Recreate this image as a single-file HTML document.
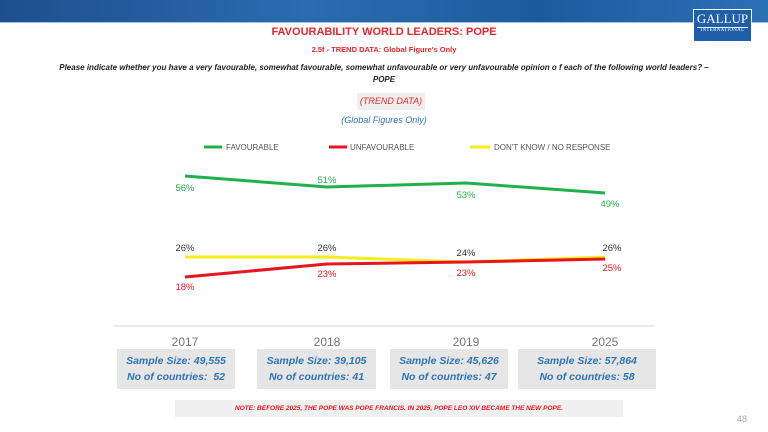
<!DOCTYPE html>
<html><head><style>
body{margin:0;width:768px;height:432px;background:#fff;font-family:"Liberation Sans",sans-serif;position:relative;overflow:hidden}
.a{position:absolute;white-space:nowrap}
.c{transform:translateX(-50%);text-align:center}
.box{position:absolute;background:#e6e6e6;top:349px;height:40px;color:#2e75b6;font-weight:bold;font-style:italic;font-size:10.5px;text-align:center;line-height:16px;padding-top:4px;box-sizing:border-box}
</style></head><body>
<div class="a" style="left:0;top:0;width:768px;height:22px;background:linear-gradient(90deg,#1d4f8f,#2a6cb0 40%,#1e5a9e 70%,#2b70b5)"></div>
<div class="a" style="left:0;top:22px;width:768px;height:1px;background:#9cc3e6"></div>
<div class="a" style="left:693px;top:9px;width:57px;height:31px;background:#1f5ea8;border:1px solid #fff;color:#fff;font-family:'Liberation Serif',serif;text-align:center;overflow:hidden">
<div style="font-size:13px;line-height:16px;margin-top:1px">GALLUP</div>
<div style="font-size:5px;border-top:1px solid #fff;margin:0 3px;letter-spacing:.3px">INTERNATIONAL</div></div>
<div class="a c" style="left:384px;top:26px;color:#e8262a;font-weight:bold;font-size:11px">FAVOURABILITY WORLD LEADERS: POPE</div>
<div class="a c" style="left:384px;top:45px;color:#e8262a;font-weight:bold;font-size:7.5px">2.5f - TREND DATA: Global Figure's Only</div>
<div class="a c" style="left:384px;top:62px;color:#222;font-weight:bold;font-style:italic;font-size:8px;line-height:12px">Please indicate whether you have a very favourable, somewhat favourable, somewhat unfavourable or very unfavourable opinion o f each of the following world leaders? –<br>POPE</div>
<div class="a c" style="left:391px;top:93px;width:68px;height:17px;background:#efefef;color:#e8262a;font-style:italic;font-size:9px;line-height:17px">(TREND DATA)</div>
<div class="a c" style="left:384px;top:115px;color:#2e75b6;font-style:italic;font-size:9px">(Global Figures Only)</div>
<svg class="a" style="left:0;top:0" width="768" height="432">
<g stroke-width="3">
<line x1="204" y1="147" x2="222" y2="147" stroke="#22b04b"/>
<line x1="329" y1="147" x2="347" y2="147" stroke="#e8161c"/>
<line x1="470" y1="147" x2="490" y2="147" stroke="#f5ee1c"/>
<polyline fill="none" stroke="#22b04b" points="185,176 327,187 466,183 605,193"/>
<polyline fill="none" stroke="#f5ee1c" points="185,257 327,257 466,262 605,257"/>
<polyline fill="none" stroke="#e8161c" points="185,277 327,264 466,262 605,259"/>
</g>
<line x1="113" y1="326" x2="655" y2="326" stroke="#e4e4e4" stroke-width="1.5"/>
<g font-family="Liberation Sans" font-size="8" fill="#555">
<text x="226" y="150">FAVOURABLE</text><text x="350" y="150">UNFAVOURABLE</text><text x="494" y="150">DON'T KNOW / NO RESPONSE</text></g>
<g font-family="Liberation Sans" font-size="9.5" text-anchor="middle">
<g fill="#22b04b"><text x="185" y="191">56%</text><text x="327" y="183">51%</text><text x="466" y="198">53%</text><text x="610" y="207">49%</text></g>
<g fill="#333"><text x="185" y="251">26%</text><text x="327" y="251">26%</text><text x="466" y="256">24%</text><text x="612" y="251">26%</text></g>
<g fill="#e8161c"><text x="185" y="290">18%</text><text x="327" y="277">23%</text><text x="466" y="276">23%</text><text x="612" y="271">25%</text></g>
</g>
<g font-family="Liberation Sans" font-size="12" fill="#777" text-anchor="middle">
<text x="185" y="346">2017</text><text x="327" y="346">2018</text><text x="466" y="346">2019</text><text x="605" y="346">2025</text></g>
</svg>
<div class="box" style="left:117px;width:118px">Sample Size: 49,555<br>No of countries:&nbsp; 52</div>
<div class="box" style="left:257px;width:119px">Sample Size: 39,105<br>No of countries: 41</div>
<div class="box" style="left:390px;width:118px">Sample Size: 45,626<br>No of countries: 47</div>
<div class="box" style="left:518px;width:138px">Sample Size: 57,864<br>No of countries: 58</div>
<div class="a" style="left:175px;top:400px;width:448px;height:17px;background:#f0f0f0;color:#e8161c;font-weight:bold;font-style:italic;font-size:6.5px;text-align:center;line-height:17px">NOTE: BEFORE 2025, THE POPE WAS POPE FRANCIS. IN 2025, POPE LEO XIV BECAME THE NEW POPE.</div>
<div class="a" style="left:737px;top:414px;color:#aaa;font-size:9px">48</div>
</body></html>
